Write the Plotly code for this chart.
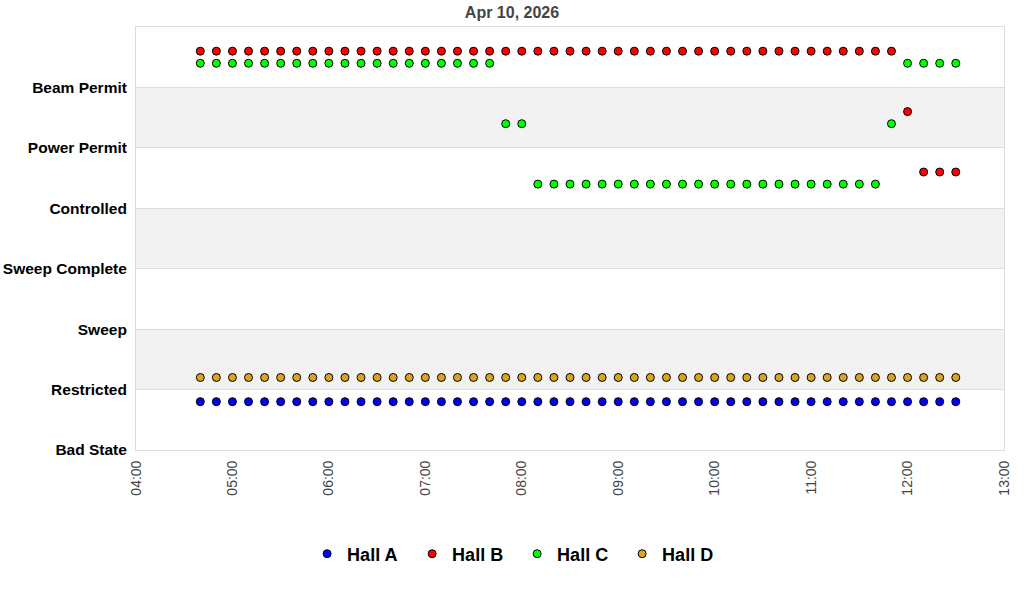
import pandas as pd
import plotly.graph_objects as go

# State categories, bottom to top
states = ["Bad State", "Restricted", "Sweep", "Sweep Complete",
          "Controlled", "Power Permit", "Beam Permit"]

# Samples every 10 minutes from 04:40 to 12:30
times = pd.date_range("2026-04-10 04:40", "2026-04-10 12:30", freq="10min")

hall_a_state = ["Restricted"] * 48
hall_b_state = ["Beam Permit"] * 44 + ["Power Permit"] + ["Controlled"] * 3
hall_c_state = (["Beam Permit"] * 19 + ["Power Permit"] * 2 + ["Controlled"] * 22
                + ["Power Permit"] + ["Beam Permit"] * 4)
hall_d_state = ["Restricted"] * 48

halls = ["Hall A", "Hall B", "Hall C", "Hall D"]
hall_states = [hall_a_state, hall_b_state, hall_c_state, hall_d_state]
hall_offsets = [-0.2, 0.6, 0.4, 0.2]
hall_colors = ["#0000ff", "#ff0000", "#00ff00", "#daa520"]

FONT = "Liberation Sans, Arial, sans-serif"

fig = go.Figure()

# Alternating grey bands
for lo in (1, 3, 5):
    fig.add_shape(type="rect", xref="paper", yref="y", x0=0, x1=1, y0=lo, y1=lo + 1,
                  fillcolor="#f2f2f2", line_width=0, layer="below")

for name, st, off, color in zip(halls, hall_states, hall_offsets, hall_colors):
    y = [states.index(s) + off for s in st]
    fig.add_trace(go.Scatter(
        x=times, y=y, mode="markers", name=name,
        marker=dict(color=color, size=8, symbol="circle",
                    line=dict(color="black", width=1)),
        customdata=st, hovertemplate="%{x|%H:%M} %{customdata}<extra>" + name + "</extra>",
    ))

fig.update_layout(
    width=1024, height=600,
    margin=dict(l=136, r=20, t=27, b=150, autoexpand=False),
    paper_bgcolor="white", plot_bgcolor="white",
    font=dict(family=FONT, color="black"),
    title=dict(text="Apr 10, 2026", x=0.5, xref="container", xanchor="center",
               y=1 - 12 / 600, yref="container", yanchor="middle",
               font=dict(family=FONT, size=16, color="#444444", weight="bold")),
    legend=dict(orientation="h", x=0.505, xref="container", xanchor="center",
                y=(600 - 554) / 600, yref="container", yanchor="middle",
                font=dict(family=FONT, size=18, color="black", weight="bold"),
                itemwidth=30, entrywidth=60),
    showlegend=True,
)

fig.update_xaxes(
    type="date",
    range=["2026-04-10 04:00", "2026-04-10 13:00"],
    dtick=3600000, tickformat="%H:%M", tickangle=-90,
    tickfont=dict(family=FONT, size=14, color="#444444"),
    showgrid=False, zeroline=False,
    showline=True, linecolor="#dddddd", linewidth=1, mirror=True,
    ticks="outside", ticklen=4, tickcolor="white",
)

fig.update_yaxes(
    range=[0, 7],
    tickvals=list(range(len(states))), ticktext=states,
    tickfont=dict(family=FONT, size=15.5, color="black", weight="bold"),
    showgrid=True, gridcolor="#dddddd", gridwidth=1,
    zeroline=False,
    showline=True, linecolor="#dddddd", linewidth=1, mirror=True,
    ticks="outside", ticklen=5, tickcolor="white",
)

# drop the default body margin so the figure sits at the window corner
fig.write_html("out.html", config={"displayModeBar": False},
               post_script="document.body.style.margin = '0';")
